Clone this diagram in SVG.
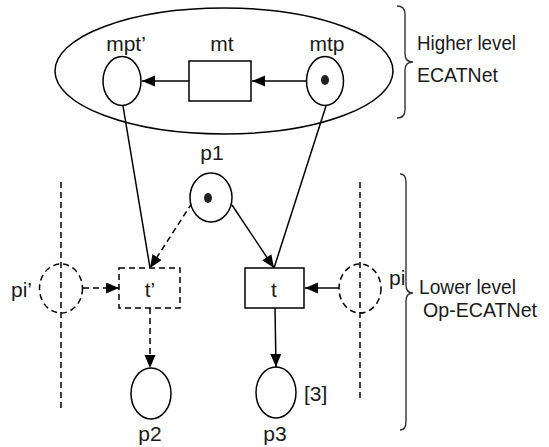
<svg xmlns="http://www.w3.org/2000/svg" width="549" height="447" viewBox="0 0 549 447">
  <defs>
    <marker id="arrow" markerUnits="userSpaceOnUse" markerWidth="14" markerHeight="12" refX="13" refY="5.5" orient="auto">
      <path d="M0,0 L13,5.5 L0,11 z" fill="#000"/>
    </marker>
    <style>
      .place { fill: #fff; stroke: #000; stroke-width: 1.5; }
      .trans { fill: #fff; stroke: #000; stroke-width: 1.5; }
      .dashed { stroke-dasharray: 6 4; }
      .arc { fill: none; stroke: #000; stroke-width: 1.5; }
      .brace { fill: none; stroke: #333; stroke-width: 1.4; }
      .token { fill: #222; }
      text { font-family: "Liberation Sans", Arial, sans-serif; font-size: 21px; fill: #1a1a1a; }
      .mid { text-anchor: middle; }
    </style>
  </defs>

  <rect width="549" height="447" fill="#fff"/>

  <!-- higher level net boundary -->
  <g id="higher-net">
    <ellipse cx="224" cy="71" rx="169" ry="63" class="arc"/>
  </g>

  <!-- connectors -->
  <g id="connectors">
    <path class="arc" d="M307,81 L252,81" marker-end="url(#arrow)"/>
    <path class="arc" d="M189,81 L142,81" marker-end="url(#arrow)"/>
    <path class="arc" d="M123,106 L150,268"/>
    <path class="arc" d="M326,106 L274,268"/>
    <path class="arc dashed" d="M192,203 L150,268" marker-end="url(#arrow)"/>
    <path class="arc" d="M232,205 L274,268" marker-end="url(#arrow)"/>
    <path class="arc dashed" d="M83,288 L119,288" marker-end="url(#arrow)"/>
    <path class="arc" d="M339,288 L305,288" marker-end="url(#arrow)"/>
    <path class="arc dashed" d="M150,308 L150,368" marker-end="url(#arrow)"/>
    <path class="arc" d="M275,308 L276,367" marker-end="url(#arrow)"/>
    <path class="arc dashed" d="M61,182 L61,410"/>
    <path class="arc dashed" d="M360,182 L360,402"/>
  </g>

  <!-- higher level nodes -->
  <g id="mpt-prime">
    <ellipse cx="122" cy="81" rx="19" ry="24.5" class="place"/>
    <text x="126" y="51" class="mid">mpt’</text>
  </g>
  <g id="mt">
    <rect x="189" y="61" width="62" height="40" class="trans"/>
    <text x="222" y="51" class="mid">mt</text>
  </g>
  <g id="mtp">
    <ellipse cx="325" cy="81" rx="18.5" ry="24.5" class="place"/>
    <ellipse cx="325" cy="80" rx="4" ry="5" class="token"/>
    <text x="327" y="51" class="mid">mtp</text>
  </g>

  <!-- lower level nodes -->
  <g id="p1">
    <ellipse cx="211" cy="197.5" rx="21" ry="24.5" class="place"/>
    <ellipse cx="208" cy="198" rx="4" ry="5" class="token"/>
    <text x="212" y="160" class="mid">p1</text>
  </g>
  <g id="t-prime">
    <rect x="119" y="268" width="61" height="40" class="trans dashed"/>
    <text x="150" y="297" class="mid">t’</text>
  </g>
  <g id="t">
    <rect x="245" y="268" width="59" height="40" class="trans"/>
    <text x="274" y="297" class="mid">t</text>
  </g>
  <g id="pi-prime">
    <ellipse cx="61" cy="288.5" rx="21.5" ry="24.5" class="place dashed" style="fill:none"/>
    <text x="11" y="297">pi’</text>
  </g>
  <g id="pi">
    <ellipse cx="360" cy="288.5" rx="21" ry="24.5" class="place dashed" style="fill:none"/>
    <text x="389" y="285">pi</text>
  </g>
  <g id="p2">
    <ellipse cx="151" cy="393.5" rx="20" ry="25.5" class="place"/>
    <text x="150" y="441" class="mid">p2</text>
  </g>
  <g id="p3">
    <ellipse cx="276" cy="392.5" rx="20" ry="25.5" class="place"/>
    <text x="275" y="441" class="mid">p3</text>
    <text x="304" y="401">[3]</text>
  </g>

  <!-- level braces and captions -->
  <g id="higher-level-label">
    <path class="brace" d="M397,6 Q405,6 405,14 L405,54 Q405,62 413,62 Q405,62 405,70 L405,110 Q405,118 397,118"/>
    <text x="417" y="50" textLength="99" lengthAdjust="spacingAndGlyphs">Higher level</text>
    <text x="417" y="82" textLength="81" lengthAdjust="spacingAndGlyphs">ECATNet</text>
  </g>
  <g id="lower-level-label">
    <path class="brace" d="M400,174 Q406,174 406,182 L406,285 Q406,293 413,293 Q406,293 406,301 L406,422 Q406,430 400,430"/>
    <text x="419" y="294" textLength="97" lengthAdjust="spacingAndGlyphs">Lower level</text>
    <text x="423" y="317" textLength="114" lengthAdjust="spacingAndGlyphs">Op-ECATNet</text>
  </g>
</svg>
